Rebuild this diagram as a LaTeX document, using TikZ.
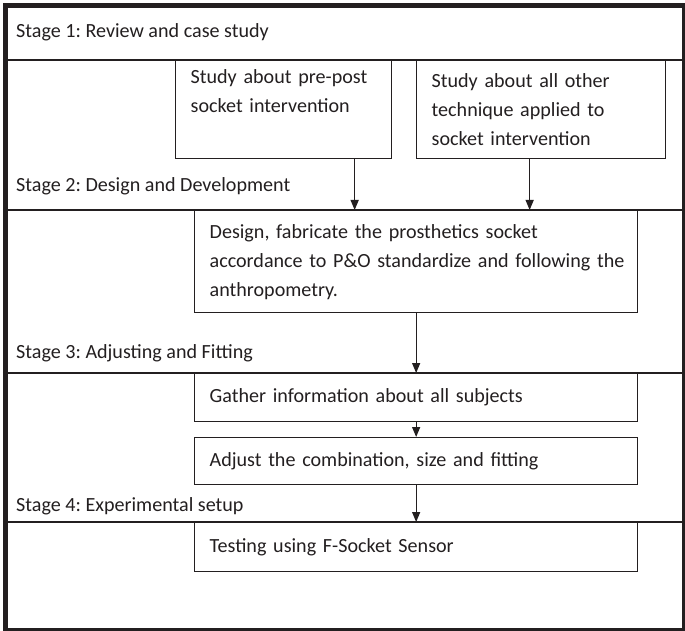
\documentclass[tikz,border=0pt]{standalone}
\usepackage{fontspec}
\setmainfont{Carlito}
\usetikzlibrary{arrows.meta}
\definecolor{ink}{HTML}{231F20}
\begin{document}
\frenchspacing
\begin{tikzpicture}[x=1pt,y=-1pt,
  stagebox/.style={draw=ink, line width=1.3pt, anchor=north west, align=left, inner xsep=15pt, inner ysep=2pt, font=\fontsize{20.1}{29}\selectfont, text=ink},
  stagelabel/.style={anchor=west, inner sep=0pt, font=\fontsize{20.1}{24}\selectfont, text=ink},
  sep/.style={draw=ink, line width=1.2pt},
  flow/.style={draw=ink, line width=1.3pt, -{Triangle[length=10pt,width=8pt]}}]
\useasboundingbox (0,0) rectangle (685,631);
\node[draw=ink, line width=5.5pt, minimum width=679.5pt, minimum height=625.5pt, anchor=north west, inner sep=0pt] (frame) at (2.75,2.75) {};
% separators
\draw[sep] (frame.west |- 0,60) -- (frame.east |- 0,60);
\draw[sep] (frame.west |- 0,210) -- (frame.east |- 0,210);
\draw[sep] (frame.west |- 0,373) -- (frame.east |- 0,373);
\draw[sep] (frame.west |- 0,522) -- (frame.east |- 0,522);
% stage labels
\node[stagelabel] (s1) at (16,32) {Stage 1: Review and case study};
\node[stagelabel] (s2) at (16,186) {Stage 2: Design and Development};
\node[stagelabel] (s3) at (16,353) {Stage 3: Adjusting and Fitting};
\node[stagelabel] (s4) at (16,506) {Stage 4: Experimental setup};
% boxes
\node[stagebox, text width=186pt, minimum height=98pt] (a) at (175,60) {Study about pre-post\\socket intervention\\\strut};
\node[stagebox, text width=219pt, minimum height=98pt] (b) at (416,60) {Study about all other\\technique applied to\\socket intervention};
\node[stagebox, text width=413pt, minimum height=102pt] (c) at (194,210) {\mbox{Design, fabricate the prosthetics socket}\\\mbox{accordance to P\&O standardize and following the}\\\mbox{anthropometry.}};
\node[stagebox, text width=413pt, minimum height=48pt] (d) at (194,373) {Gather information about all subjects};
\node[stagebox, text width=413pt, minimum height=47pt] (e) at (194,437) {Adjust the combination, size and fitting};
\node[stagebox, text width=413pt, minimum height=49pt] (f) at (194,522) {Testing using F-Socket Sensor};
% arrows
\draw[flow] ([xshift=71pt]a.south) -- ([xshift=71pt]a.south |- c.north);
\draw[flow] ([xshift=-11.5pt]b.south) -- ([xshift=-11.5pt]b.south |- c.north);
\draw[flow] (c.south) -- (d.north);
\draw[flow] (d.south) -- (e.north);
\draw[flow] (e.south) -- (f.north);
\end{tikzpicture}
\end{document}
